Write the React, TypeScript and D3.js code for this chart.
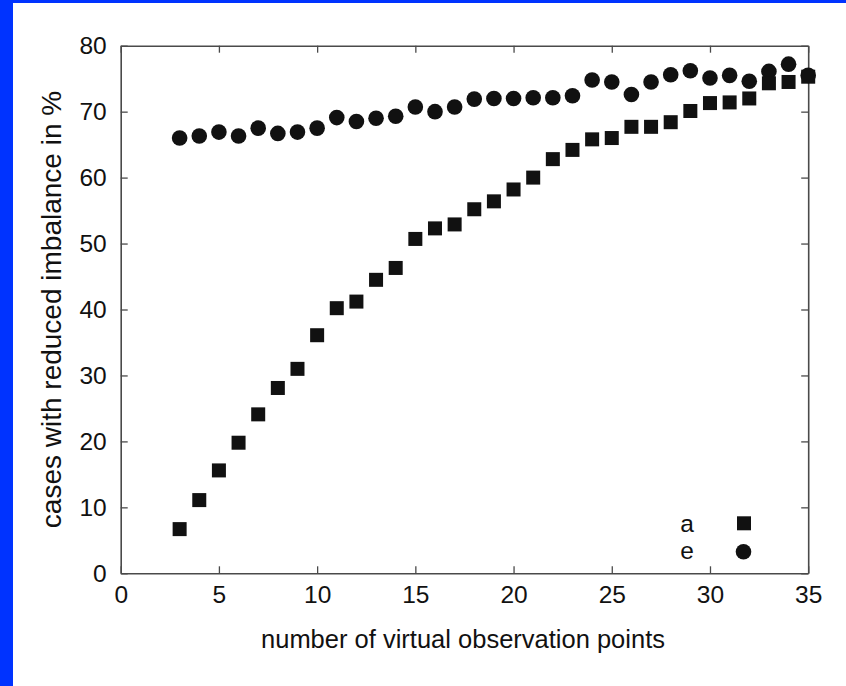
import React, { useEffect, useRef } from "react";
import * as d3 from "d3";

const points = [3, 4, 5, 6, 7, 8, 9, 10, 11, 12, 13, 14, 15, 16, 17, 18, 19, 20, 21, 22, 23, 24, 25, 26, 27, 28, 29, 30, 31, 32, 33, 34, 35];
const seriesA = [6.7, 11.1, 15.6, 19.8, 24.1, 28.1, 31.0, 36.1, 40.2, 41.2, 44.5, 46.3, 50.7, 52.3, 52.9, 55.2, 56.4, 58.2, 60.0, 62.8, 64.2, 65.8, 66.0, 67.7, 67.7, 68.4, 70.1, 71.3, 71.4, 72.0, 74.3, 74.5, 75.3];
const seriesE = [66.0, 66.3, 66.9, 66.3, 67.5, 66.7, 66.9, 67.5, 69.1, 68.5, 69.0, 69.3, 70.7, 70.0, 70.7, 71.9, 72.0, 72.0, 72.1, 72.1, 72.4, 74.8, 74.5, 72.6, 74.5, 75.6, 76.2, 75.1, 75.5, 74.6, 76.1, 77.2, 75.5];
const xTicks = [0, 5, 10, 15, 20, 25, 30, 35];
const yTicks = [0, 10, 20, 30, 40, 50, 60, 70, 80];
const legendLabels = ["a", "e"];
const xTitle = "number of virtual observation points";
const yTitle = "cases with reduced imbalance in %";

const W = 846;
const H = 686;
const M = { left: 120.7, right: 808.2, top: 45.7, bottom: 573.3 };
const FONT = '"Liberation Sans", Arial, Helvetica, sans-serif';
const INK = "#111";
const AXIS = "#4a4a4a";

export default function App() {
  const ref = useRef<SVGSVGElement>(null);

  useEffect(() => {
    const svg = d3.select(ref.current);
    svg.selectAll("*").remove();

    const x = d3.scaleLinear().domain([0, 35]).range([M.left, M.right]);
    const y = d3.scaleLinear().domain([0, 80]).range([M.bottom, M.top]);

    svg.append("rect").attr("width", W).attr("height", H).attr("fill", "#fff");
    svg.append("rect").attr("x", 0).attr("y", 0).attr("width", 13).attr("height", H).attr("fill", "#0033ff");
    svg.append("rect").attr("x", 0).attr("y", 0).attr("width", W).attr("height", 3).attr("fill", "#0033ff");

    const styleAxis = (g: any, showLabels: boolean) => {
      g.select(".domain").attr("stroke", AXIS).attr("stroke-width", 1.6);
      g.selectAll(".tick line").attr("stroke", AXIS).attr("stroke-width", 1.3);
      g.selectAll(".tick text")
        .attr("fill", INK)
        .style("font-family", FONT)
        .style("font-size", "24.5px");
      if (!showLabels) g.selectAll(".tick text").remove();
    };

    const bottom = svg.append("g").attr("transform", `translate(0,${M.bottom})`)
      .call(d3.axisBottom(x).tickValues(xTicks).tickSizeInner(-7).tickSizeOuter(0).tickPadding(12).tickFormat(d3.format("d")));
    styleAxis(bottom, true);

    const top = svg.append("g").attr("transform", `translate(0,${M.top})`)
      .call(d3.axisTop(x).tickValues(xTicks).tickSizeInner(-7).tickSizeOuter(0));
    styleAxis(top, false);

    const left = svg.append("g").attr("transform", `translate(${M.left},0)`)
      .call(d3.axisLeft(y).tickValues(yTicks).tickSizeInner(-7).tickSizeOuter(0).tickPadding(14).tickFormat(d3.format("d")));
    styleAxis(left, true);

    const right = svg.append("g").attr("transform", `translate(${M.right},0)`)
      .call(d3.axisRight(y).tickValues(yTicks).tickSizeInner(-7).tickSizeOuter(0));
    styleAxis(right, false);

    const data = points.map((p, i) => ({ p, a: seriesA[i], e: seriesE[i] }));

    svg.append("g").selectAll("circle").data(data).join("circle")
      .attr("cx", (d) => x(d.p))
      .attr("cy", (d) => y(d.e))
      .attr("r", 7.8)
      .attr("fill", INK);

    const s = 14;
    svg.append("g").selectAll("rect").data(data).join("rect")
      .attr("x", (d) => x(d.p) - s / 2)
      .attr("y", (d) => y(d.a) - s / 2)
      .attr("width", s)
      .attr("height", s)
      .attr("fill", INK);

    // legend
    const lg = svg.append("g");
    lg.append("text").attr("x", 694).attr("y", 532).attr("text-anchor", "end")
      .style("font-family", FONT).style("font-size", "24.5px").attr("fill", INK).text(legendLabels[0]);
    lg.append("rect").attr("x", 744 - s / 2).attr("y", 523.3 - s / 2).attr("width", s).attr("height", s).attr("fill", INK);
    lg.append("text").attr("x", 694).attr("y", 559).attr("text-anchor", "end")
      .style("font-family", FONT).style("font-size", "24.5px").attr("fill", INK).text(legendLabels[1]);
    lg.append("circle").attr("cx", 743.5).attr("cy", 551.7).attr("r", 7.8).attr("fill", INK);

    svg.append("text")
      .attr("x", 463).attr("y", 648).attr("text-anchor", "middle")
      .style("font-family", FONT).style("font-size", "25.5px").attr("fill", INK)
      .text(xTitle);

    svg.append("text")
      .attr("transform", `translate(61,${(M.top + M.bottom) / 2}) rotate(-90)`)
      .attr("text-anchor", "middle")
      .style("font-family", FONT).style("font-size", "28px").attr("fill", INK)
      .text(yTitle);
  }, []);

  return (
    <svg
      ref={ref}
      width={W}
      height={H}
      style={{ position: "absolute", left: 0, top: 0, display: "block" }}
    />
  );
}
